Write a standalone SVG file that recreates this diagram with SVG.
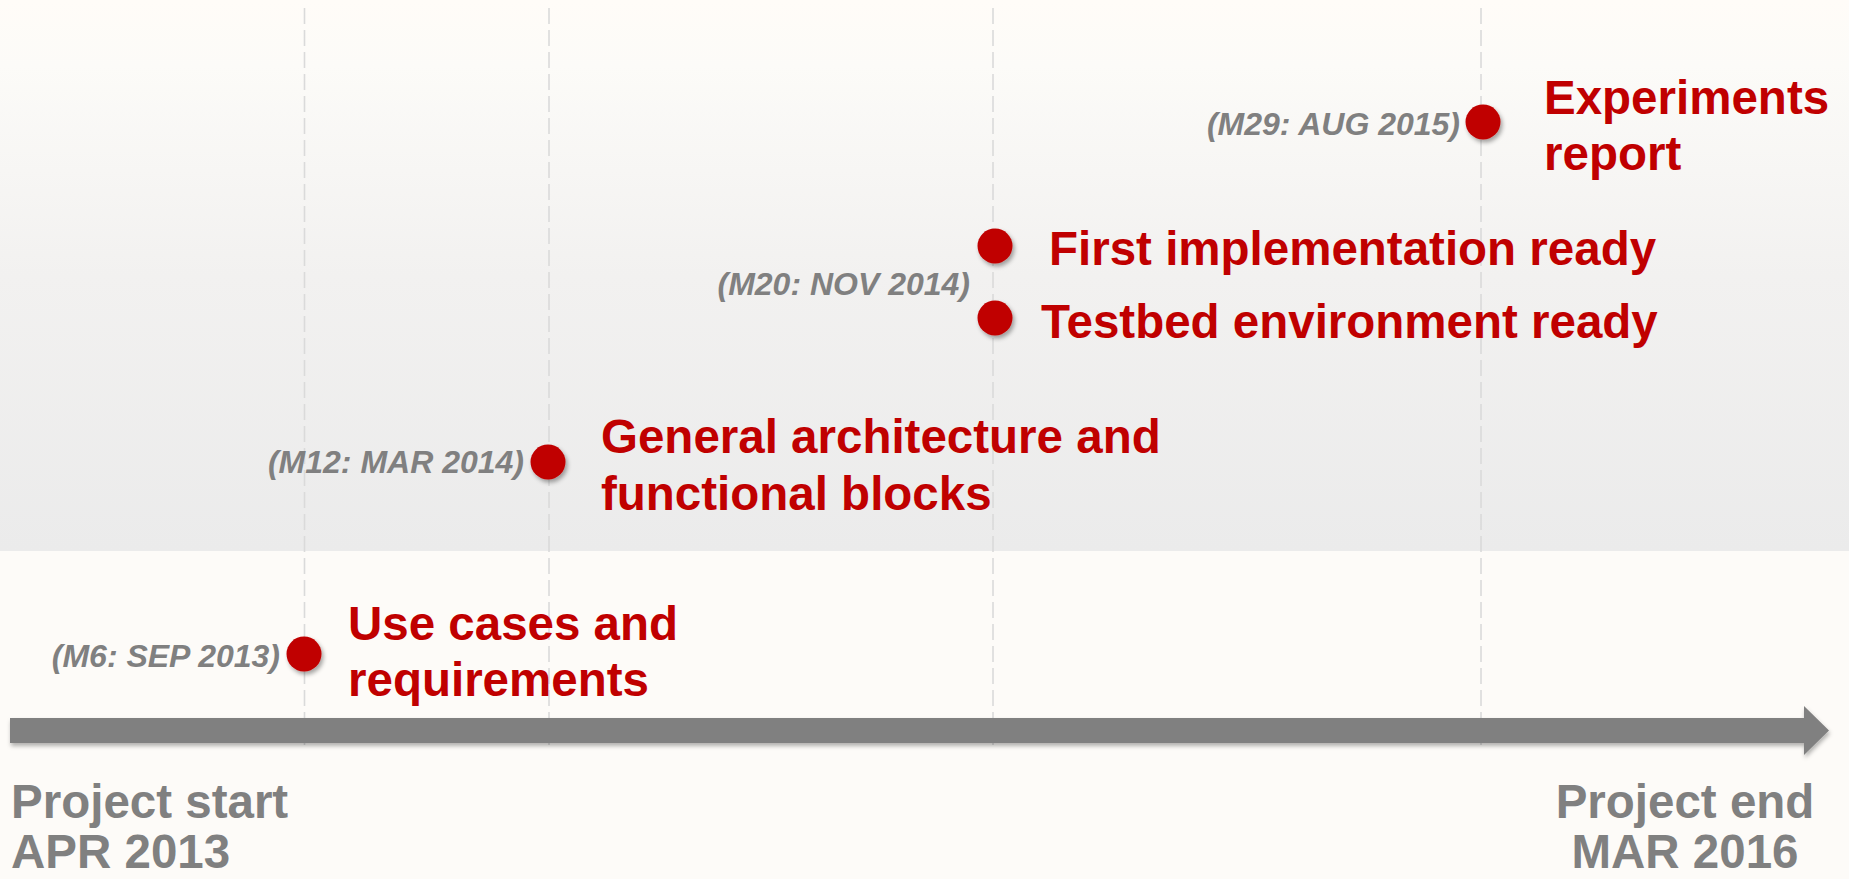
<svg xmlns="http://www.w3.org/2000/svg" width="1849" height="879" viewBox="0 0 1849 879">
  <defs>
    <linearGradient id="band" x1="0" y1="0" x2="0" y2="1">
      <stop offset="0" stop-color="#fffcf8"/>
      <stop offset="0.12" stop-color="#fcfbf8"/>
      <stop offset="0.5" stop-color="#f2f1f0"/>
      <stop offset="1" stop-color="#ebebeb"/>
    </linearGradient>
    <filter id="shadow" x="-30%" y="-30%" width="180%" height="180%">
      <feDropShadow dx="2" dy="3" stdDeviation="2" flood-color="#000" flood-opacity="0.35"/>
    </filter>
    <filter id="barshadow" x="-5%" y="-50%" width="110%" height="200%">
      <feDropShadow dx="1" dy="3" stdDeviation="2" flood-color="#000" flood-opacity="0.3"/>
    </filter>
  </defs>
  <style>
    .guide { stroke: #dadada; stroke-width: 1.6; stroke-dasharray: 16 6; fill: none; }
    .dot { fill: #c00000; filter: url(#shadow); }
    .title { font-family: "Liberation Sans", Arial, sans-serif; font-weight: bold; font-size: 47.5px; fill: #c00000; }
    .date { font-family: "Liberation Sans", Arial, sans-serif; font-weight: bold; font-style: italic; font-size: 32px; fill: #808080; text-anchor: end; }
    .axislabel { font-family: "Liberation Sans", Arial, sans-serif; font-weight: bold; font-size: 47.5px; fill: #808080; }
  </style>

  <rect x="0" y="0" width="1849" height="879" fill="#fdfbf8"/>
  <rect x="0" y="0" width="1849" height="551" fill="url(#band)"/>

  <g id="guides">
    <line class="guide" x1="304.5" y1="8" x2="304.5" y2="745"/>
    <line class="guide" x1="549" y1="8" x2="549" y2="745"/>
    <line class="guide" x1="993" y1="8" x2="993" y2="745"/>
    <line class="guide" x1="1481" y1="8" x2="1481" y2="745"/>
  </g>

  <g id="connectors">
    <polygon id="timeline" points="10,718 1804,718 1804,706 1829,730.5 1804,755 1804,743 10,743" fill="#808080" filter="url(#barshadow)"/>
  </g>

  <g id="start">
    <text class="axislabel" x="11" y="818">Project start</text>
    <text class="axislabel" x="11" y="868">APR 2013</text>
  </g>
  <g id="end">
    <text class="axislabel" x="1685" y="818" text-anchor="middle">Project end</text>
    <text class="axislabel" x="1685" y="868" text-anchor="middle">MAR 2016</text>
  </g>

  <g id="m6">
    <circle class="dot" cx="304" cy="654" r="17.5"/>
    <text class="date" x="280" y="667">(M6: SEP 2013)</text>
    <text class="title" x="348" y="640">Use cases and</text>
    <text class="title" x="348" y="696">requirements</text>
  </g>

  <g id="m12">
    <circle class="dot" cx="548" cy="462" r="17.5"/>
    <text class="date" x="524" y="473">(M12: MAR 2014)</text>
    <text class="title" x="601" y="453">General architecture and</text>
    <text class="title" x="601" y="510">functional blocks</text>
  </g>

  <g id="m20">
    <circle class="dot" cx="995" cy="246" r="17.5"/>
    <circle class="dot" cx="995" cy="318" r="17.5"/>
    <text class="date" x="970" y="295">(M20: NOV 2014)</text>
    <text class="title" x="1049" y="265">First implementation ready</text>
    <text class="title" x="1041" y="338">Testbed environment ready</text>
  </g>

  <g id="m29">
    <circle class="dot" cx="1483" cy="122" r="17.5"/>
    <text class="date" x="1460" y="135">(M29: AUG 2015)</text>
    <text class="title" x="1544" y="114">Experiments</text>
    <text class="title" x="1544" y="170">report</text>
  </g>
</svg>
